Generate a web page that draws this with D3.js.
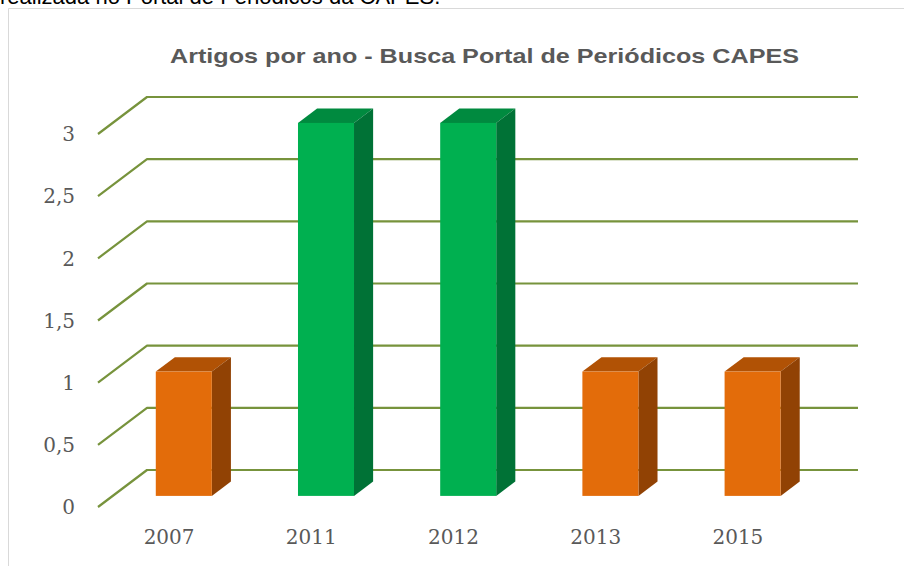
<!DOCTYPE html>
<html>
	<head>
		<meta charset="UTF-8">
		<title></title>
		<style>
			body { margin: 0; background: #fff; }
		</style>
	</head>
	<body>
		<svg width="904" height="566"></svg>
		<script src="https://cdn.jsdelivr.net/npm/d3@7/dist/d3.min.js"></script>
		<script>
		// dados
		var anos = ['2007', '2011', '2012', '2013', '2015'];
		var artigos = [1, 3, 3, 1, 1];
		var grupos = ['laranja', 'verde', 'verde', 'laranja', 'laranja'];
		var ticks = [0, 0.5, 1, 1.5, 2, 2.5, 3];

		var svg = d3.select('svg');

		// profundidade 3D (deslocamento da parede do fundo)
		var dx = 49, dy = -37;
		var f0 = 0.3, f1 = 0.69; // posicao das barras na profundidade

		var x = d3.scaleBand().domain(anos).range([98, 809]).paddingInner(0.606).paddingOuter(0.303);
		var y = d3.scaleLinear().domain([0, 3]).range([507, 134]);

		var cores = {
			laranja: {frente: '#E36C0A', lado: '#914204', topo: '#B15205'},
			verde: {frente: '#00B050', lado: '#007236', topo: '#008A3F'}
		};

		// texto cortado acima do grafico
		svg.append('text')
			.attr('x', 0).attr('y', 3.5)
			.style('font-family', 'Liberation Sans, Arial, sans-serif')
			.style('font-size', '22px')
			.style('fill', '#000')
			.text('realizada no Portal de Periódicos da CAPES.');

		// moldura
		svg.append('path')
			.attr('d', 'M8.5,566V8.5H904')
			.style('fill', 'none')
			.style('stroke', '#D9D9D9')
			.style('stroke-width', 1);

		// titulo
		svg.append('text')
			.attr('x', 484.5).attr('y', 63)
			.attr('text-anchor', 'middle')
			.attr('textLength', 629)
			.attr('lengthAdjust', 'spacingAndGlyphs')
			.style('font-family', 'Liberation Sans, Arial, sans-serif')
			.style('font-size', '21px')
			.style('font-weight', 'bold')
			.style('fill', '#595959')
			.text('Artigos por ano - Busca Portal de Periódicos CAPES');

		// grade: diagonal lateral + linha na parede do fundo
		var grade = svg.append('g');
		grade.selectAll('path').data(ticks).enter().append('path')
			.attr('d', function(t) {
				var y0 = y(t);
				return 'M98,' + y0 + 'L' + (98 + dx) + ',' + (y0 + dy) + 'L' + (809 + dx) + ',' + (y0 + dy);
			})
			.style('fill', 'none')
			.style('stroke', '#77933C')
			.style('stroke-width', 2.2)
			.style('stroke-linejoin', 'round');

		// rotulos do eixo y
		svg.append('g').selectAll('text').data(ticks).enter().append('text')
			.attr('x', 75).attr('y', function(t) { return y(t); })
			.attr('dy', '0.36em')
			.attr('text-anchor', 'end')
			.style('font-family', 'DejaVu Serif, serif')
			.style('font-size', '20px')
			.style('fill', '#595959')
			.text(function(t) { return String(t).replace('.', ','); });

		// barras 3D
		var barras = svg.append('g').selectAll('g').data(anos).enter().append('g');

		function pt(px, py) { return px + ',' + py; }

		barras.each(function(a, i) {
			var g = d3.select(this);
			var c = cores[grupos[i]];
			var xl = x(a) + dx * f0, xr = x(a) + x.bandwidth() + dx * f0;
			var yb = y(0) + dy * f0, yt = y(artigos[i]) + dy * f0;
			var ox = dx * (f1 - f0), oy = dy * (f1 - f0);
			// topo
			g.append('path')
				.attr('d', 'M' + pt(xl, yt) + 'L' + pt(xl + ox, yt + oy) + 'L' + pt(xr + ox, yt + oy) + 'L' + pt(xr, yt) + 'Z')
				.style('fill', c.topo);
			// lado
			g.append('path')
				.attr('d', 'M' + pt(xr, yt) + 'L' + pt(xr + ox, yt + oy) + 'L' + pt(xr + ox, yb + oy) + 'L' + pt(xr, yb) + 'Z')
				.style('fill', c.lado);
			// frente
			g.append('rect')
				.attr('x', xl).attr('y', yt)
				.attr('width', xr - xl).attr('height', yb - yt)
				.style('fill', c.frente);
		});

		// rotulos do eixo x
		svg.append('g').selectAll('text').data(anos).enter().append('text')
			.attr('x', function(a) { return x(a) + x.bandwidth() / 2; })
			.attr('y', 544)
			.attr('text-anchor', 'middle')
			.style('font-family', 'DejaVu Serif, serif')
			.style('font-size', '20px')
			.style('fill', '#595959')
			.text(function(a) { return a; });
		</script>
	</body>
</html>
